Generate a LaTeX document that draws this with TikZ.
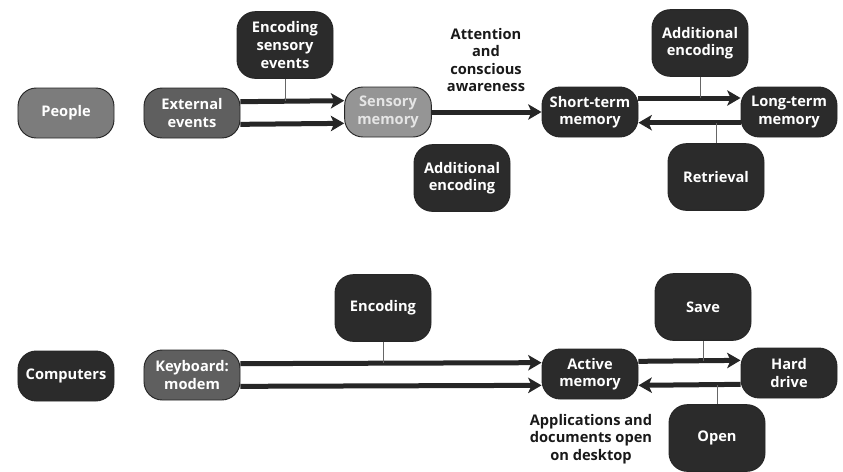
\documentclass[tikz,border=0pt]{standalone}
\usepackage{fontspec}
\setmainfont{Open Sans}
\usepackage{xcolor}
\usetikzlibrary{arrows.meta}

\definecolor{boxdark}{HTML}{2B2B2B}
\definecolor{boxmid}{HTML}{5F5F5F}
\definecolor{boxgrey}{HTML}{7C7C7C}
\definecolor{boxlight}{HTML}{959595}

\begin{document}
\begin{tikzpicture}[
  x=0.03cm, y=-0.03cm,
  box/.style={draw=black!85, line width=0.8pt, rounded corners=5.5mm, fill=boxdark, text=white,
    minimum width=2.88cm, minimum height=1.5cm, align=center, inner sep=1pt,
    font=\fontsize{12.5}{15}\selectfont\bfseries},
  tall/.style={box, minimum height=2cm},
  lbl/.style={align=center, font=\fontsize{12.5}{15}\selectfont\bfseries, text=black!90},
  arr/.style={-{Stealth[length=4mm, width=4.6mm, inset=1mm]}, line width=1.5mm, draw=black!85},
  tick/.style={draw=black!60, line width=0.6pt}
]
\useasboundingbox (0,0) rectangle (843,471);

% people
\node[box, fill=boxgrey] (ppl) at (66,113) {People};
\node[box, fill=boxmid] (ext) at (192,113) {External\\events};
\node[tall] (encs) at (285,45) {Encoding\\sensory\\events};
\node[box, fill=boxlight, minimum width=2.6cm, text=white!90!black] (sens) at (388,112) {Sensory\\memory};
\node[tall] (addl) at (462,178) {Additional\\encoding};
\node[lbl] (att) at (486,60) {Attention\\and\\conscious\\awareness};
\node[box] (stm) at (590,112) {Short-term\\memory};
\node[tall] (addr) at (700,43) {Additional\\encoding};
\node[box] (ltm) at (789,112) {Long-term\\memory};
\node[tall] (ret) at (716,177) {Retrieval};

\draw[arr] ([yshift=3.4mm]ext.east) -- coordinate[pos=0.5] (e1) ([yshift=3.4mm]sens.west);
\draw[arr] ([yshift=-3.4mm]ext.east) -- ([yshift=-3.4mm]sens.west);
\draw[arr] (sens.east) -- (stm.west);
\draw[arr] ([yshift=4.2mm]stm.east) -- coordinate[pos=0.5] (s1) ([yshift=4.2mm]ltm.west);
\draw[arr] ([yshift=-3.2mm]ltm.west) -- coordinate[pos=0.5] (l1) ([yshift=-3.2mm]stm.east);
\draw[tick] (encs.south) -- (encs.south |- e1);
\draw[tick] (addr.south) -- (addr.south |- s1);
\draw[tick] (ret.north) -- (ret.north |- l1);

% computers
\node[box] (cmp) at (66,376) {Computers};
\node[box, fill=boxmid] (kbd) at (192,375) {Keyboard:\\modem};
\node[tall] (enc) at (383,308) {Encoding};
\node[box] (act) at (590,374) {Active\\memory};
\node[tall] (save) at (703,307) {Save};
\node[box] (hd) at (789,373) {Hard\\drive};
\node[tall] (open) at (717,438) {Open};
\node[lbl] (apps) at (591,439) {Applications and\\documents open\\on desktop};

\draw[arr] ([yshift=3.4mm]kbd.east) -- coordinate[pos=0.5] (k1) ([yshift=3.4mm]act.west);
\draw[arr] ([yshift=-3.4mm]kbd.east) -- ([yshift=-3.4mm]act.west);
\draw[arr] ([yshift=3.8mm]act.east) -- coordinate[pos=0.5] (a1) ([yshift=3.8mm]hd.west);
\draw[arr] ([yshift=-3.4mm]hd.west) -- coordinate[pos=0.5] (h1) ([yshift=-3.4mm]act.east);
\draw[tick] (enc.south) -- (enc.south |- k1);
\draw[tick] (save.south) -- (save.south |- a1);
\draw[tick] (open.north) -- (open.north |- h1);
\end{tikzpicture}
\end{document}
